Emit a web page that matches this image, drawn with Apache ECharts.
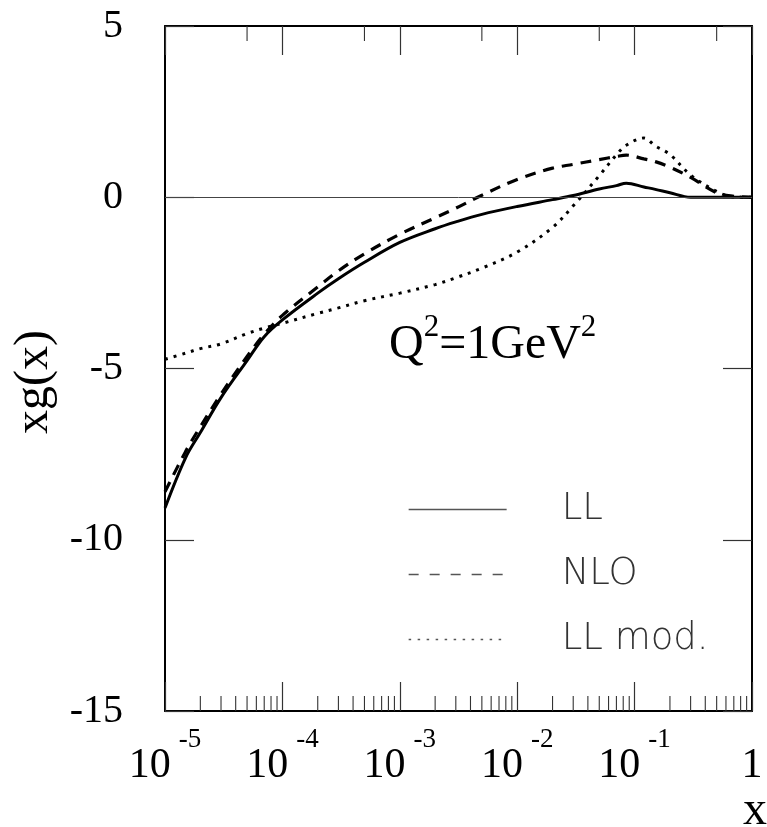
<!DOCTYPE html>
<html>
<head>
<meta charset="utf-8">
<script src="https://cdn.jsdelivr.net/npm/echarts@6/dist/echarts.min.js"></script>
<style>
  html, body { margin: 0; padding: 0; background: #fff; }
  #chart { width: 767px; height: 827px; }
</style>
</head>
<body>
<div id="chart"></div>
<script>
// Gluon momentum distribution xg(x) at Q^2 = 1 GeV^2
const xValues = [1e-5, 1.5e-5, 2e-5, 3e-5, 5e-5, 7e-5, 1e-4, 2e-4, 3e-4, 5e-4,
                 1e-3, 2e-3, 3e-3, 5e-3, 1e-2, 2e-2, 3e-2, 5e-2, 7e-2, 8.5e-2,
                 0.12, 0.15, 0.2, 0.3, 0.5, 0.7, 1];
const llValues = [-9.07, -7.6, -6.87, -5.85, -4.77, -4.07, -3.58, -2.8, -2.38, -1.9,
                  -1.32, -0.92, -0.72, -0.5, -0.27, -0.07, 0.05, 0.24, 0.34, 0.41,
                  0.3, 0.23, 0.13, 0.0, 0.0, 0.0, 0.0];
const nloValues = [-8.6, -7.42, -6.7, -5.75, -4.65, -4.0, -3.45, -2.62, -2.15, -1.65,
                   -1.08, -0.6, -0.32, 0.06, 0.52, 0.85, 0.96, 1.1, 1.19, 1.23,
                   1.12, 1.04, 0.88, 0.58, 0.13, 0.03, 0.0];
const llModValues = [-4.73, -4.55, -4.42, -4.28, -3.98, -3.82, -3.68, -3.39, -3.23, -3.02,
                     -2.8, -2.55, -2.35, -2.07, -1.6, -0.88, -0.25, 0.63, 1.24, 1.52,
                     1.73, 1.5, 1.25, 0.65, 0.17, 0.01, 0.0];

const seriesNames = ['LL', 'NLO', 'LL mod.'];
const xMin = 1e-5, xMax = 1;
const yMin = -15, yMax = 5, yStep = 5;
const tickDecades = [-5, -4, -3, -2, -1];
const bottomMinorMultipliers = [2, 3, 4, 5, 6, 7, 8, 9];
const topMinorMultipliers = [5];

const serif = '"Liberation Serif", "Times New Roman", serif';

function pairs(ys) { return xValues.map((x, i) => [x, ys[i]]); }
function minorTicks(mults, atY) {
  const out = [];
  tickDecades.forEach(e => mults.forEach(m => out.push([m * Math.pow(10, e), atY])));
  return out;
}
function tickRenderer(len, dir) {
  return function (params, api) {
    const p = api.coord([api.value(0), api.value(1)]);
    return {
      type: 'line',
      shape: { x1: p[0], y1: p[1], x2: p[0], y2: p[1] + dir * len },
      style: { stroke: '#333', lineWidth: 1.1 }
    };
  };
}

const frameLine = { show: true, onZero: false, lineStyle: { color: '#000', width: 2 } };
const majorTick = { show: true, inside: true, length: 29, lineStyle: { color: '#333', width: 1.2 } };

const chart = echarts.init(document.getElementById('chart'), null, { renderer: 'canvas' });
chart.setOption({
  animation: false,
  backgroundColor: '#fff',
  grid: { left: 165, right: 15, top: 26, bottom: 116, containLabel: false },
  xAxis: [
    {
      type: 'log', logBase: 10, min: xMin, max: xMax, position: 'bottom',
      axisLine: frameLine, axisTick: majorTick, splitLine: { show: false },
      axisLabel: {
        margin: 15,
        formatter: function (v) {
          const e = Math.round(Math.log10(v));
          return e === 0 ? '{b|1}' : '{b|10}{e|' + e + '}';
        },
        rich: {
          b: { fontFamily: serif, fontSize: 42, lineHeight: 80, color: '#000', verticalAlign: 'middle' },
          e: { fontFamily: serif, fontSize: 27, lineHeight: 27, color: '#000', verticalAlign: 'middle', padding: [0, 0, 53, 8] }
        }
      }
    },
    {
      type: 'log', logBase: 10, min: xMin, max: xMax, position: 'top',
      axisLine: frameLine, axisTick: majorTick, splitLine: { show: false },
      axisLabel: { show: false }
    }
  ],
  yAxis: [
    {
      type: 'value', min: yMin, max: yMax, interval: yStep, position: 'left',
      axisLine: frameLine, axisTick: majorTick, splitLine: { show: false },
      axisLabel: { fontFamily: serif, fontSize: 40, color: '#000', margin: 42 }
    },
    {
      type: 'value', min: yMin, max: yMax, interval: yStep, position: 'right',
      axisLine: frameLine, axisTick: majorTick, splitLine: { show: false },
      axisLabel: { show: false }
    }
  ],
  legend: {
    orient: 'vertical', left: 403, top: 486,
    itemWidth: 98, itemHeight: 40, itemGap: 28,
    selectedMode: false,
    itemStyle: { color: 'transparent', borderColor: 'transparent', borderWidth: 0, opacity: 0 },
    lineStyle: { width: 1.3, color: '#555' },
    textStyle: { fontFamily: '"DejaVu Sans"', fontWeight: 200, fontSize: 37, color: '#333', padding: [0, 0, 0, 50] },
    data: [
      { name: seriesNames[0], lineStyle: { type: 'solid' } },
      { name: seriesNames[1], lineStyle: { type: [10, 11] } },
      { name: seriesNames[2], lineStyle: { type: [2.5, 6.5] } }
    ]
  },
  graphic: [
    {
      type: 'text', left: 389, top: 312,
      style: {
        text: '{q|Q}{s|2}{q|=1GeV}{s|2}',
        rich: {
          q: { fontFamily: serif, fontSize: 48, fill: '#000' },
          s: { fontFamily: serif, fontSize: 31, fill: '#000', padding: [0, 0, 36, 0] }
        }
      }
    },
    {
      type: 'text', x: 34, y: 382, rotation: Math.PI / 2,
      style: { text: 'xg(x)', font: '48px ' + serif, fill: '#000', align: 'center', verticalAlign: 'middle' }
    },
    {
      type: 'text', x: 755, y: 811,
      style: { text: 'x', font: '48px ' + serif, fill: '#000', align: 'center', verticalAlign: 'middle' }
    }
  ],
  series: [
    {
      name: seriesNames[0], type: 'line', data: pairs(llValues),
      symbol: 'none', smooth: 0.35, z: 3,
      lineStyle: { color: '#000', width: 3, type: 'solid' },
      markLine: {
        silent: true, symbol: ['none', 'none'], label: { show: false },
        lineStyle: { color: '#444', width: 1, type: 'solid' },
        data: [{ yAxis: 0 }]
      }
    },
    {
      name: seriesNames[1], type: 'line', data: pairs(nloValues),
      symbol: 'none', smooth: 0.35, z: 3,
      lineStyle: { color: '#000', width: 3.2, type: [11, 8] }
    },
    {
      name: seriesNames[2], type: 'line', data: pairs(llModValues),
      symbol: 'none', smooth: 0.35, z: 3,
      lineStyle: { color: '#000', width: 3, type: [3, 6] }
    },
    {
      name: 'bottom minor ticks', type: 'custom', xAxisIndex: 0, yAxisIndex: 0,
      data: minorTicks(bottomMinorMultipliers, yMin), renderItem: tickRenderer(15, -1),
      silent: true, clip: false, z: 4
    },
    {
      name: 'top minor ticks', type: 'custom', xAxisIndex: 0, yAxisIndex: 0,
      data: minorTicks(topMinorMultipliers, yMax), renderItem: tickRenderer(15, 1),
      silent: true, clip: false, z: 4
    }
  ]
});
</script>
</body>
</html>
